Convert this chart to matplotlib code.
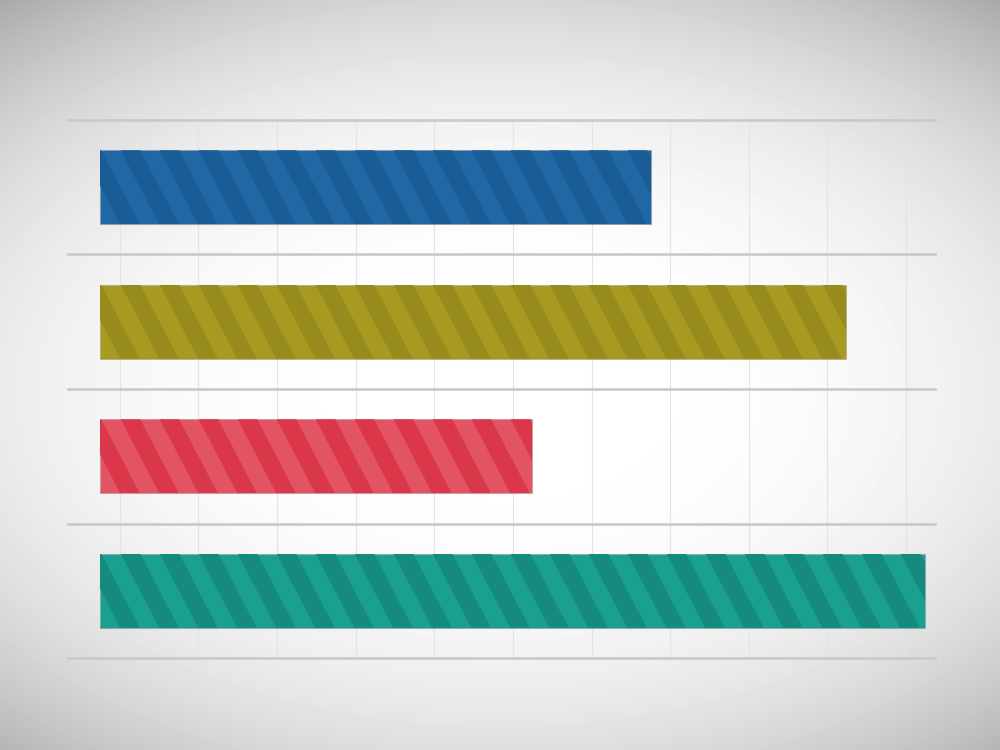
import numpy as np
import matplotlib
matplotlib.use("Agg")
import matplotlib.pyplot as plt
from matplotlib.collections import PolyCollection
from matplotlib.transforms import IdentityTransform

# data
categories = ["A", "B", "C", "D"]
bar_start = -0.25
bar_end = [6.76, 9.24, 5.24, 10.24]
light = ["#1f67a5", "#a89a20", "#e25464", "#1aa090"]
dark = ["#1a5c96", "#988b1e", "#db374b", "#168a7c"]
ticks = np.arange(0, 11)

W, H = 1000, 750
fig = plt.figure(figsize=(10, 7.5), dpi=100)

# radial background
bg = fig.add_axes([0, 0, 1, 1], zorder=-10)
yy, xx = np.mgrid[0:H, 0:W]
r = np.sqrt(((xx - 500) / 650.0) ** 2 + ((yy - 390) / 400.0) ** 2)
v = np.clip(255 - 45 * r ** 3, 150, 255) / 255.0
bg.imshow(v, cmap="gray", vmin=0, vmax=1, extent=[0, 1, 0, 1], aspect="auto", interpolation="bilinear")
bg.set_axis_off()

ax = fig.add_axes([0.068, 92 / 750, 0.867, 538 / 750])
ax.patch.set_alpha(0)
ax.set_xlim(-0.66, 10.37)
ax.set_ylim(3.5, -0.5)
ypos = np.arange(len(categories))

for t in ticks:
    ax.plot([t, t], [-0.5, 3.5], color="#e4e4e4", lw=0.8, zorder=1)
for b in np.arange(-0.5, 4.0, 1.0):
    ax.axhline(b, color="#c9c9c9", lw=1.9, zorder=2, clip_on=False)

bars = ax.barh(ypos, np.array(bar_end) - bar_start, left=bar_start, height=0.55,
               color=light, edgecolor=(0.55, 0.55, 0.55, 0.35), linewidth=0.8, zorder=3)

# diagonal stripes in pixel space, clipped to each bar
period, sw, shift = 39.0, 19.5, 38.0
for rect, dc in zip(bars, dark):
    (x0, y0), (x1, y1) = ax.transData.transform([(rect.get_x(), rect.get_y()),
                                                 (rect.get_x() + rect.get_width(), rect.get_y() + rect.get_height())])
    ylo, yhi = min(y0, y1), max(y0, y1)
    hgt = yhi - ylo
    sh = shift * hgt / 73.0
    polys = []
    xs = np.arange(x0 - sh - period + 20, x1 + period, period)
    for xs0 in xs:
        polys.append([(xs0, yhi), (xs0 + sw, yhi), (xs0 + sw + sh, ylo), (xs0 + sh, ylo)])
    pc = PolyCollection(polys, facecolors=dc, edgecolors="none", transform=IdentityTransform(), zorder=4)
    ax.add_collection(pc)
    pc.set_clip_path(rect)

ax.set_xticks([])
ax.set_yticks([])
for s in ax.spines.values():
    s.set_visible(False)

fig.savefig("out.png", dpi=100)
